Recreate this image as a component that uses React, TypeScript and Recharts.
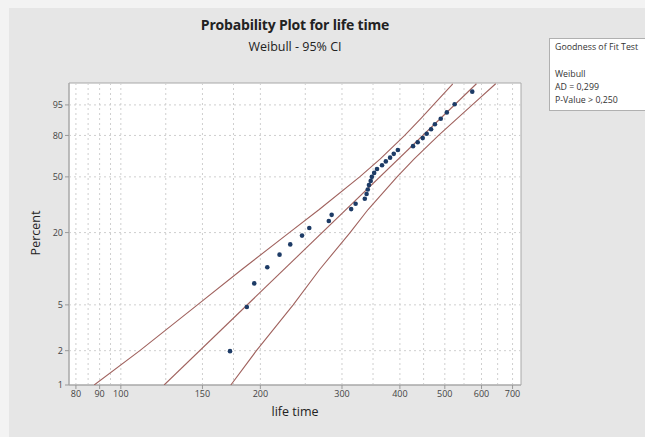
import React from 'react';
import { ComposedChart, Scatter, XAxis, YAxis, ReferenceLine, ReferenceArea } from 'recharts';

// Observed life times (sorted) and their plotted percents
const lifeTime = [172, 187, 194, 207, 220, 232, 246, 255, 281, 285, 314, 321, 336, 339, 341, 343, 346, 348, 352, 357, 366, 373, 381, 388, 396, 427, 437, 448, 457, 467, 476, 490, 505, 525, 573];
const percent = [1.98, 4.8, 7.63, 10.45, 13.28, 16.1, 18.93, 21.75, 24.58, 27.4, 30.23, 33.05, 35.88, 38.7, 41.53, 44.35, 47.18, 50.0, 52.82, 55.65, 58.47, 61.3, 64.12, 66.95, 69.77, 72.6, 75.42, 78.25, 81.07, 83.9, 86.72, 89.55, 92.37, 95.2, 98.02];

// Fitted Weibull line
const fitTime = [124, 585];
const fitPercent = [1, 99];

// 95% confidence band
const ciPercent = [1, 2, 5, 10, 20, 30, 50, 63.2, 80, 90, 95, 99];
const ciLeftTime = [87.6, 109.9, 146.3, 182.4, 230.9, 267.9, 327.6, 362.9, 409.7, 445.3, 472.4, 520.2];
const ciRightTime = [172.7, 196.1, 235.4, 268.5, 312.3, 341.5, 394.4, 429.5, 484.7, 533.5, 573.0, 643.7];

const xTicks = [80, 90, 100, 150, 200, 300, 400, 500, 600, 700];
const xGrid = [80, 85, 90, 95, 100, 125, 150, 175, 200, 250, 300, 350, 400, 450, 500, 550, 600, 650, 700];
const yTicks = [1, 2, 5, 20, 50, 80, 95];
const xDomain = [77.3, 730];
const yDomainPct = [1, 99.07];

const weib = (p: number) => Math.log(-Math.log(1 - p / 100));

const points = lifeTime.map((t, i) => ({ t, w: weib(percent[i]) }));
const fitData = fitTime.map((t, i) => ({ t, w: weib(fitPercent[i]) }));
const ciLeft = ciLeftTime.map((t, i) => ({ t, w: weib(ciPercent[i]) }));
const ciRight = ciRightTime.map((t, i) => ({ t, w: weib(ciPercent[i]) }));

const yTickVals = yTicks.map(weib);
const yDomain = [weib(yDomainPct[0]), weib(yDomainPct[1])];

const LINE = '#a0625e';
const DOT = '#1d3b66';
const GRID = '#cfcfcf';
const FONT = '"Open Sans", "Noto Sans", sans-serif';

const fmtY = (v: number) => {
  let best = 0;
  let bd = Infinity;
  yTickVals.forEach((tv, i) => {
    const d = Math.abs(tv - v);
    if (d < bd) { bd = d; best = i; }
  });
  return String(yTicks[best]);
};

const NoShape = () => <g />;
const Dot = (props: any) => <circle cx={props.cx} cy={props.cy} r={2.3} fill={DOT} />;

export default function App() {
  return (
    <div style={{ position: 'absolute', left: 0, top: 0, width: 645, height: 437, background: '#f3f3f3', overflow: 'hidden', fontFamily: FONT }}>
      <div style={{ position: 'absolute', left: 9, top: 8, right: 0, bottom: 0, background: '#e6e6e6' }} />
      <div style={{ position: 'absolute', left: 0, top: 0 }}>
        <ComposedChart width={645} height={437} margin={{ top: 83, right: 124, bottom: 0, left: 0 }}>
          <XAxis
            dataKey="t"
            type="number"
            scale="log"
            domain={xDomain}
            allowDataOverflow
            ticks={xTicks}
            interval={0}
            height={52}
            tickSize={4}
            tick={{ fontSize: 9, fill: '#444', fontFamily: FONT }}
            tickLine={{ stroke: '#999' }}
            axisLine={{ stroke: '#a8a8a8' }}
          />
          <YAxis
            dataKey="w"
            type="number"
            domain={yDomain}
            allowDataOverflow
            ticks={yTickVals}
            interval={0}
            tickFormatter={fmtY}
            width={69}
            tickSize={4}
            tick={{ fontSize: 9, fill: '#444', fontFamily: FONT }}
            tickLine={{ stroke: '#999' }}
            axisLine={{ stroke: '#a8a8a8' }}
          />
          <ReferenceArea x1={xDomain[0]} x2={xDomain[1]} y1={yDomain[0]} y2={yDomain[1]} fill="#ffffff" fillOpacity={1} stroke="#a8a8a8" ifOverflow="visible" />
          {xGrid.map((g) => (
            <ReferenceLine key={'x' + g} x={g} stroke={GRID} strokeDasharray="2 3" />
          ))}
          {yTickVals.slice(1).map((g, i) => (
            <ReferenceLine key={'y' + i} y={g} stroke={GRID} strokeDasharray="2 3" />
          ))}
          <Scatter data={ciLeft} line={{ stroke: LINE, strokeWidth: 1.1 }} shape={NoShape} isAnimationActive={false} />
          <Scatter data={ciRight} line={{ stroke: LINE, strokeWidth: 1.1 }} shape={NoShape} isAnimationActive={false} />
          <Scatter data={fitData} line={{ stroke: LINE, strokeWidth: 1.1 }} shape={NoShape} isAnimationActive={false} />
          <Scatter data={points} shape={Dot} isAnimationActive={false} />
        </ComposedChart>
      </div>
      <div style={{ position: 'absolute', left: 0, width: 590, top: 15, textAlign: 'center', fontSize: 14, fontWeight: 700, color: '#222', letterSpacing: -0.2 }}>
        Probability Plot for life time
      </div>
      <div style={{ position: 'absolute', left: 0, width: 590, top: 38, textAlign: 'center', fontSize: 12.5, color: '#222' }}>
        Weibull - 95% CI
      </div>
      <div style={{ position: 'absolute', left: 0, width: 590, top: 403, textAlign: 'center', fontSize: 12.5, color: '#222' }}>
        life time
      </div>
      <div style={{ position: 'absolute', left: 35, top: 233, transform: 'translate(-50%, -50%) rotate(-90deg)', fontSize: 12.5, color: '#222', whiteSpace: 'nowrap' }}>
        Percent
      </div>
      <div style={{ position: 'absolute', left: 549, top: 38, width: 110, height: 73, background: '#fff', border: '1px solid #b0b0b0', boxSizing: 'border-box', fontSize: 8.8, color: '#333', lineHeight: '13.3px', padding: '2px 0 0 5px', whiteSpace: 'nowrap' }}>
        <div>Goodness of Fit Test</div>
        <div>&nbsp;</div>
        <div>Weibull</div>
        <div>AD = 0,299</div>
        <div>P-Value &gt; 0,250</div>
      </div>
    </div>
  );
}
